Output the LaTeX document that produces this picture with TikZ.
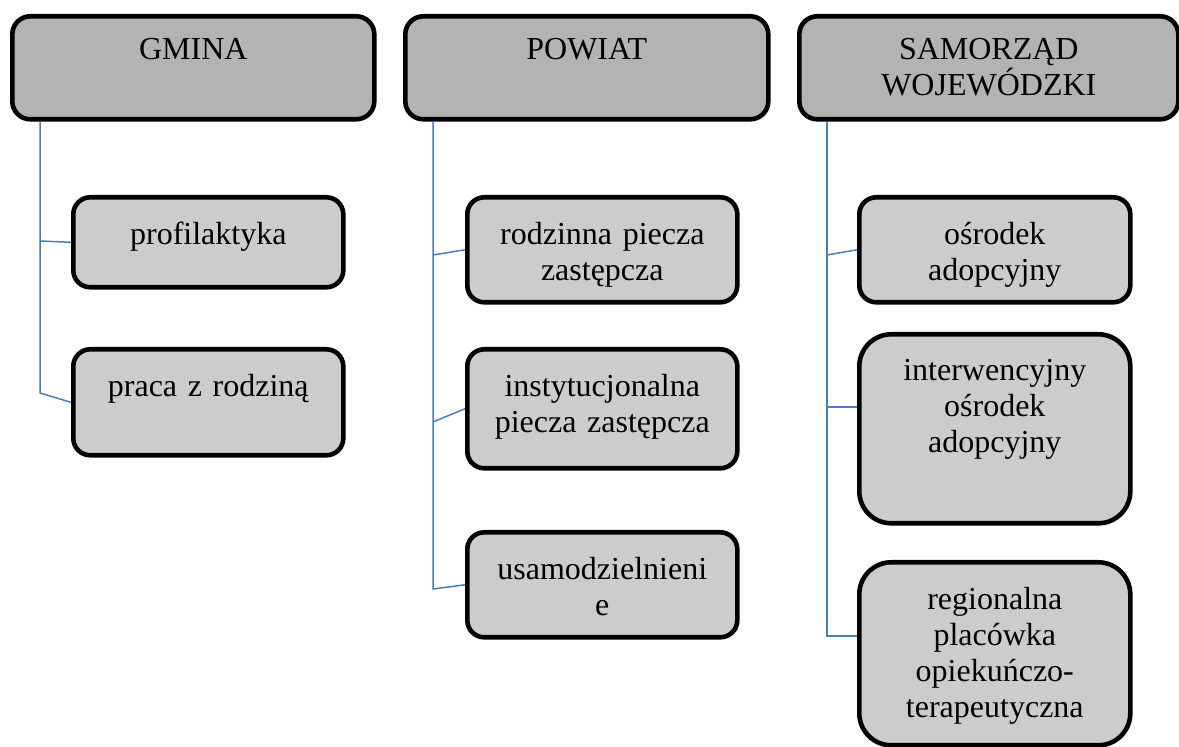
\documentclass[tikz,border=0pt]{standalone}
\usepackage{fontspec}
\setmainfont{Liberation Serif}
\usepackage{xcolor}
\usepackage{tikz}
\usetikzlibrary{calc}
\definecolor{headgray}{HTML}{B3B3B3}
\definecolor{itemgray}{HTML}{CCCCCC}
\definecolor{linkblue}{HTML}{4A7EBB}
\tikzset{
    box base/.style={draw=black,line width=2.3pt,anchor=north west,inner xsep=0pt},
    head box/.style={box base,fill=headgray,rounded corners=9pt,inner ysep=11pt},
    item box/.style={box base,fill=itemgray,rounded corners=8.5pt,inner ysep=12.5pt},
    big item box/.style={item box,rounded corners=16pt},
    link/.style={linkblue,line width=0.75pt},
}
\tikzstyle{every node}=[font=\fontsize{16pt}{18pt}\selectfont]
% text set from the top of a box of given height
\newcommand{\boxtxt}[2]{\parbox[c][#1][t]{\linewidth}{\centering #2}}

\begin{document}
\begin{tikzpicture}[x=0.5pt,y=-0.5pt]
    \useasboundingbox (0,0) rectangle (1179,747);
    % levels
    \node[head box,text width=181pt] (gmina) at (10,14) {\boxtxt{29.5pt}{GMINA}};
    \node[head box,text width=181.5pt] (powiat) at (403,14) {\boxtxt{29.5pt}{POWIAT}};
    \node[head box,text width=189.5pt] (samorzad) at (797,14) {\boxtxt{29.5pt}{SAMORZĄD\\ WOJEWÓDZKI}};
    % gmina
    \node[item box,text width=135pt] (prof) at (71,195) {\boxtxt{20pt}{profilaktyka}};
    \node[item box,text width=135pt] (praca) at (71,347) {\boxtxt{28pt}{praca z rodziną}};
    % powiat
    \node[item box,text width=135pt] (rodz) at (465,195) {\boxtxt{27.5pt}{rodzinna piecza\\ zastępcza}};
    \node[item box,text width=135pt] (inst) at (465,347) {\boxtxt{34.5pt}{instytucjonalna\\ piecza zastępcza}};
    \node[item box,text width=135pt] (usam) at (465,530) {\boxtxt{27.5pt}{usamodzielnieni\\ e}};
    % samorzad
    \node[item box,text width=135.5pt] (osr) at (857,195) {\boxtxt{27.5pt}{ośrodek\\ adopcyjny}};
    \node[big item box,text width=135.5pt] (interw) at (857,332) {\boxtxt{69.5pt}{interwencyjny\\ ośrodek\\ adopcyjny}};
    \node[big item box,text width=135.5pt] (reg) at (857,560) {\boxtxt{66.5pt}{regionalna\\ placówka\\ opiekuńczo-\\ terapeutyczna}};

    \coordinate (g1) at (40,241);
    \coordinate (g2) at (40,393);
    \coordinate (p1) at (433,255);
    \coordinate (p2) at (433,422);
    \coordinate (p3) at (433,589);
    \coordinate (s1) at (827,255);
    \coordinate (s2) at (827,407);
    \coordinate (s3) at (827,636);

    \draw[link] (gmina.south -| g2) -- (g2) -- (praca.west);
    \draw[link] (g1) -- (prof.west);
    \draw[link] (powiat.south -| p3) -- (p3) -- (usam.west);
    \draw[link] (p1) -- (rodz.west);
    \draw[link] (p2) -- (inst.west);
    \draw[link] (samorzad.south -| s3) -- (s3) -- (reg.west |- s3);
    \draw[link] (s1) -- (osr.west);
    \draw[link] (s2) -- (interw.west |- s2);
\end{tikzpicture}
\end{document}
